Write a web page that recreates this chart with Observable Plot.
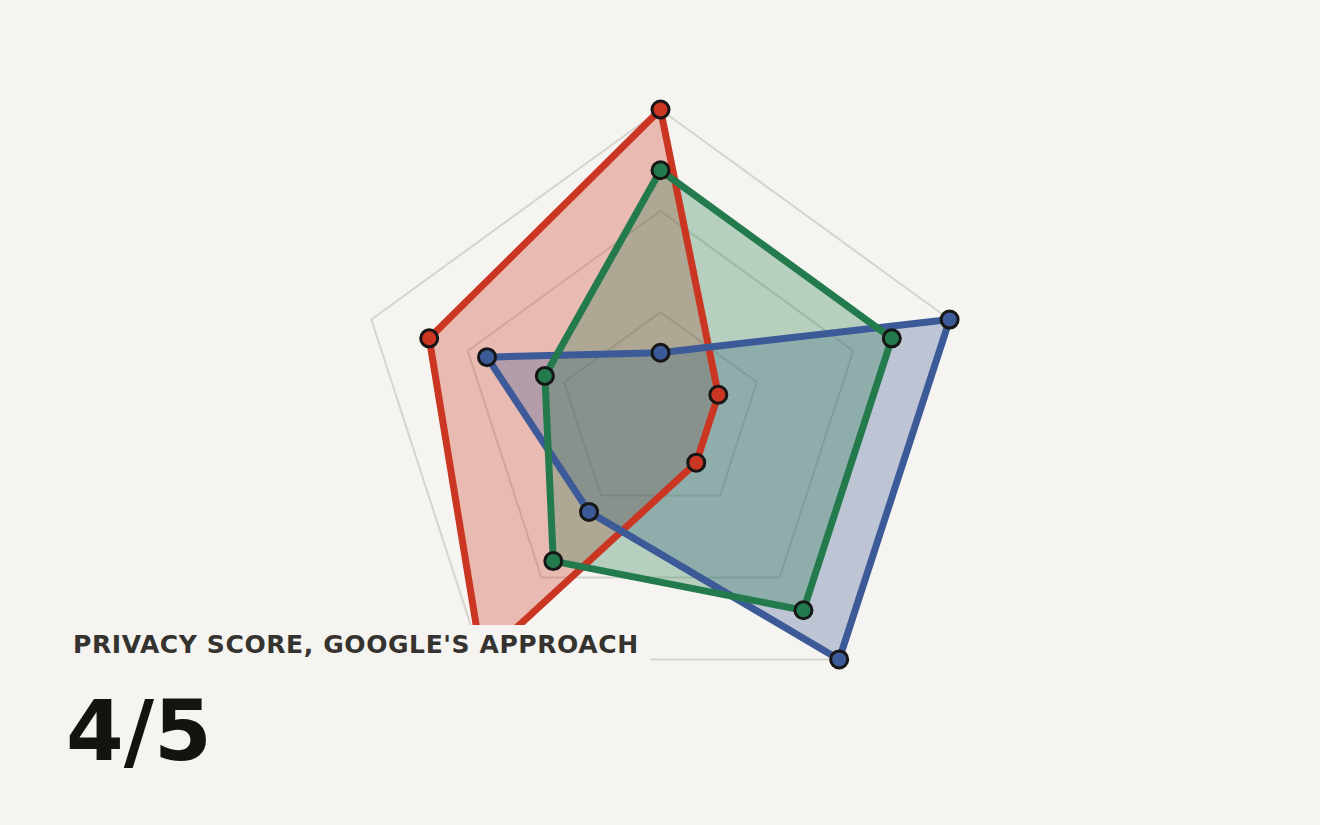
<!DOCTYPE html>
<html>
<head>
<meta charset="utf-8">
<script src="https://cdn.jsdelivr.net/npm/d3@7"></script>
<script src="https://cdn.jsdelivr.net/npm/@observablehq/plot@0.6"></script>
<style>
  html, body { margin: 0; padding: 0; background: #f5f4f0; }
  #wrap { position: relative; width: 1320px; height: 825px; overflow: hidden; }
  #overlay { position: absolute; left: 0; top: 625px; width: 650px; height: 200px; background: #f5f4f0; }
  #title { position: absolute; left: 73px; top: 7px; font-family: "DejaVu Sans", sans-serif; font-weight: bold; font-size: 25px; letter-spacing: 0.6px; color: #35332f; white-space: nowrap; line-height: 1; }
  #score { position: absolute; left: 66px; top: 65px; font-family: "DejaVu Sans", sans-serif; font-weight: bold; font-size: 83px; color: #14130f; line-height: 1; }
</style>
</head>
<body>
<div id="wrap">
  <div id="chart"></div>
  <div id="overlay">
    <div id="title">PRIVACY SCORE, GOOGLE'S APPROACH</div>
    <div id="score">4/5</div>
  </div>
</div>
<script>
// Five axes (clockwise from top), scores out of 5
const axes = ["A1", "A2", "A3", "A4", "A5"];
const maxScore = 5;
const gridLevels = [5 / 3, 10 / 3, 5];
const seriesNames = ["red", "blue", "green"];
const redValues = [5, 1, 1, 5, 4];
const blueValues = [1, 5, 5, 2, 3];
const greenValues = [4, 4, 4, 3, 2];
const colors = { red: "#cb3623", blue: "#3d5a98", green: "#237a4c" };

const angle = i => (2 * Math.PI * i) / axes.length;
const px = (i, v) => v * Math.sin(angle(i));
const py = (i, v) => v * Math.cos(angle(i));

const valuesBy = { red: redValues, blue: blueValues, green: greenValues };
const points = seriesNames.flatMap(s => valuesBy[s].map((v, i) => ({ series: s, axis: axes[i], i, v })));
const grid = gridLevels.flatMap(level => axes.map((a, i) => ({ level, i, v: level })));

const W = 1320, H = 825;
const cx = 660, cy = 413, Rpx = 304;
const k = Rpx / maxScore;

const chart = Plot.plot({
  width: W,
  height: H,
  margin: 0,
  style: { background: "transparent", overflow: "visible" },
  x: { domain: [-cx / k, (W - cx) / k], axis: null },
  y: { domain: [-(H - cy) / k, cy / k], axis: null },
  marks: [
    Plot.line(grid, {
      x: d => px(d.i, d.v), y: d => py(d.i, d.v), z: "level",
      curve: "linear-closed", stroke: "#d6d4ce", strokeWidth: 2
    }),
    Plot.line(points, {
      x: d => px(d.i, d.v), y: d => py(d.i, d.v), z: "series",
      curve: "linear-closed", fill: d => colors[d.series], fillOpacity: 0.3, stroke: "none"
    }),
    Plot.line(points, {
      x: d => px(d.i, d.v), y: d => py(d.i, d.v), z: "series",
      curve: "linear-closed", stroke: d => colors[d.series], strokeWidth: 7, strokeLinejoin: "round"
    }),
    Plot.dot(points, {
      x: d => px(d.i, d.v), y: d => py(d.i, d.v),
      r: 8.5, fill: d => colors[d.series], stroke: "#161616", strokeWidth: 3
    })
  ]
});
document.getElementById("chart").appendChild(chart);
</script>
</body>
</html>
